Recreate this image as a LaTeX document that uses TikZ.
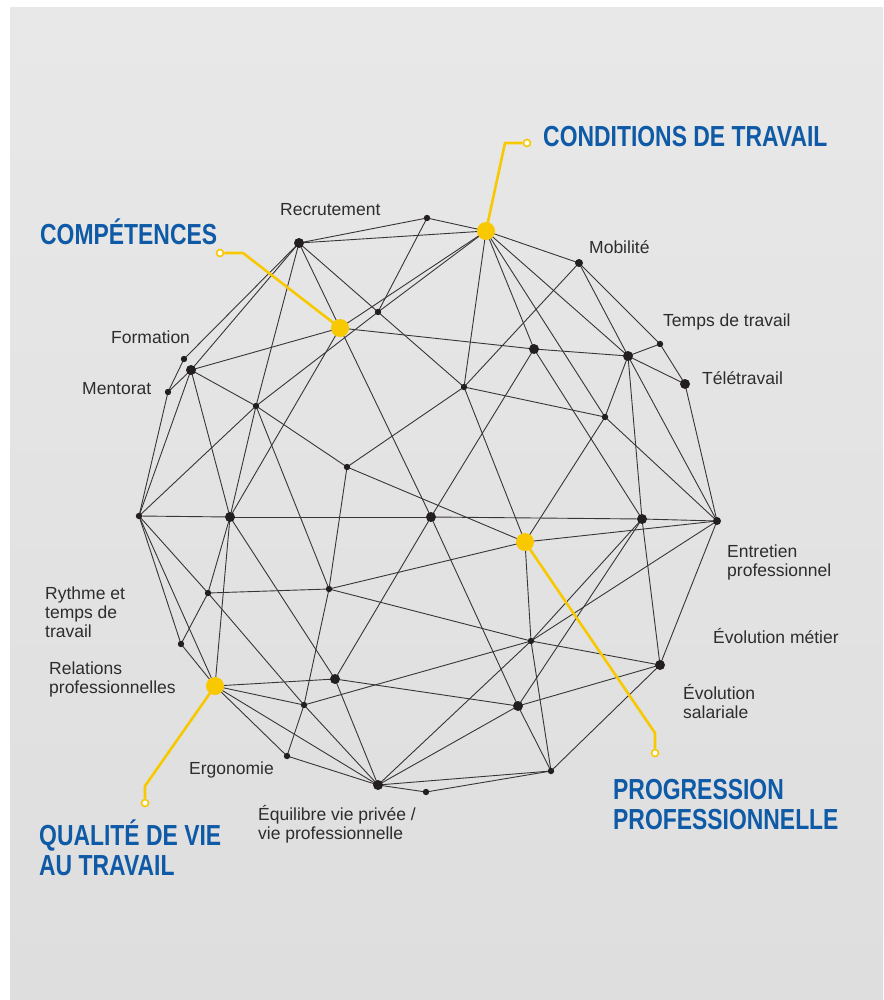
\documentclass[tikz,border=0pt]{standalone}
\usepackage{fontspec}
\setmainfont{Liberation Sans}
\newfontfamily\titlefont[FakeStretch=0.79]{Liberation Sans}
\usetikzlibrary{calc,positioning}
\definecolor{bleu}{HTML}{0E5AA6}
\definecolor{jaune}{HTML}{F8C800}
\definecolor{trait}{HTML}{231F20}
\definecolor{texte}{HTML}{2D2D2D}

\tikzset{
  lien/.style={trait!90,line width=0.9pt},
  fil/.style={jaune,line width=2.6pt,line join=round},
  bout/.style={circle,draw=jaune,fill=white,line width=1.6pt,inner sep=0pt,minimum size=7pt},
  etiq/.style={texte,anchor=west,align=left,inner sep=0pt,font=\fontsize{17.5}{19}\selectfont},
  titre/.style={bleu,anchor=west,align=left,inner sep=0pt,font=\titlefont\bfseries\fontsize{29}{30}\selectfont}
}

\begin{document}
\begin{tikzpicture}[x=1pt,y=-1pt]
		\fill[white] (0,0) rectangle (883,1000);
		\shade[top color=black!9,bottom color=black!13] (10,8) rectangle (883,1000);
		\useasboundingbox (0,0) rectangle (883,1000);
		
		\foreach \n/\x/\y in {A/299/243,B/427/218,C/486/231,D/579/263,E/660/344,F/628/356,
			G/685/384,H/534/349,I/464/387,J/605/417,K/340/328,L/378/312,M/184/359,N/191/370,
			O/168/392,P/256/406,Q/347/467,R/139/516,S/230/517,T/431/517,U/525/542,V/642/519,
			W/717/521,X/208/593,Y/329/589,Z/181/644,QV/215/686,AA/335/679,AB/304/705,
			AC/287/756,AD/378/785,AE/426/792,AF/531/641,AG/518/706,AH/551/771,AI/660/665}
		\coordinate (\n) at (\x,\y);
		
		% la sphere
		\foreach \a/\b in {A/B,A/C,A/M,A/N,A/P,A/K,A/L,B/C,B/L,C/D,C/K,C/L,C/I,C/H,C/J,C/F,
			D/E,D/F,D/I,E/F,E/G,F/G,F/H,F/J,F/V,F/W,G/W,H/K,H/T,H/V,I/L,I/J,I/Q,I/U,J/W,J/U,
			K/N,K/S,K/T,L/P,M/O,N/O,N/R,N/S,N/P,O/R,P/S,P/R,P/Q,P/Y,Q/U,Q/Y,
			R/S,R/X,R/Z,R/QV,S/T,S/X,S/QV,S/AA,T/V,T/AA,T/AG,U/Y,U/W,U/AF,
			V/W,V/AI,V/AG,V/AF,W/AF,W/AI,X/Y,X/Z,X/AB,Y/AB,Y/AF,Z/QV,
			QV/AA,QV/AB,QV/AC,QV/AD,AA/AG,AA/AD,AB/AC,AB/AD,AB/AF,AC/AD,
			AD/AE,AD/AF,AD/AG,AD/AH,AE/AH,AF/AI,AF/AH,AG/AH,AG/AI,AH/AI}
		\draw[lien] (\a) -- (\b);
		
		\foreach \n in {A,F,G,H,N,S,T,V,AA,AG,AD,AI}
		\fill[trait] (\n) circle (5);
		\foreach \n in {D,W}
		\fill[trait] (\n) circle (4);
		\foreach \n in {B,E,I,J,L,M,O,P,Q,R,X,Y,Z,AB,AC,AE,AF,AH}
		\fill[trait] (\n) circle (3.2);
		
		% les quatre axes
		\node[bout] (ctb) at (527,143) {};
		\node[bout] (cob) at (220,253) {};
		\node[bout] (ppb) at (655,753) {};
		\node[bout] (qvb) at (145,803) {};
		\draw[fil] (C) -- (505,143) -- (ctb);
		\draw[fil] (K) -- (243,253) -- (cob);
		\draw[fil] (U) -- (655,733) -- (ppb);
		\draw[fil] (QV) -- (145,786) -- (qvb);
		\foreach \n in {C,K,U,QV}
		\fill[jaune] (\n) circle (9);
		
		\node[titre] (ct) at (543,137) {CONDITIONS DE TRAVAIL};
		\node[titre] (co) at (40,232) {COMPÉTENCES};
		\node[titre] (pp) at (613,805) {PROGRESSION\\PROFESSIONNELLE};
		\node[titre] (qv) at (39,848) {QUALITÉ DE VIE\\AU TRAVAIL};
		
		\node[etiq] (recr) at (280,210) {Recrutement};
		\node[etiq] (mob) at (589,247) {Mobilité};
		\node[etiq] (tps) at (663,322) {Temps de travail};
		\node[etiq] (tele) at (702,378) {Télétravail};
		\node[etiq] (form) at (111,337) {Formation};
		\node[etiq] (ment) at (82,389) {Mentorat};
		\node[etiq] (entr) at (727,562) {Entretien\\professionnel};
		\node[etiq] (evm) at (713,636) {Évolution métier};
		\node[etiq] (evs) at (683,701) {Évolution\\salariale};
		\node[etiq] (ryth) at (45,612) {Rythme et\\temps de\\travail};
		\node[etiq] (rel) at (49,679) {Relations\\professionnelles};
		\node[etiq] (ergo) at (189,770) {Ergonomie};
		\node[etiq] (equi) at (258,824) {Équilibre vie privée /\\vie professionnelle};
	\end{tikzpicture}
\end{document}
